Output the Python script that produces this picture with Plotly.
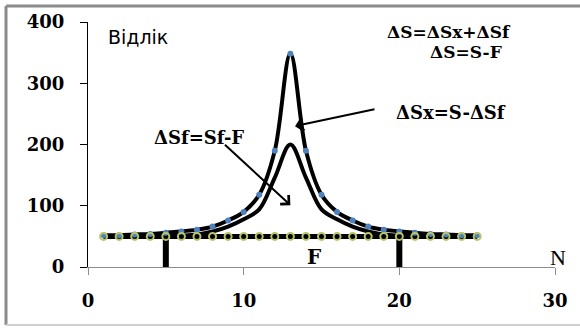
import plotly.graph_objects as go

N = list(range(1, 26))
S = [52, 52, 53, 54, 56, 58, 61, 66, 76, 90, 118, 190, 348, 190, 118, 90, 76, 66, 61, 58, 56, 54, 53, 52, 52]
Sf = [50, 50, 50, 50, 50, 51, 53, 58, 66, 78, 94, 146, 200, 146, 94, 78, 66, 58, 53, 51, 50, 50, 50, 50, 50]
F = [50] * 25
bar_N = [5, 20]
bar_top = 50

serif = "DejaVu Serif"
fig = go.Figure()

# vertical markers at N=5 and N=20
for n in bar_N:
    fig.add_trace(go.Scatter(x=[n, n], y=[0, bar_top], mode="lines",
                             line=dict(color="black", width=6), showlegend=False, hoverinfo="skip"))

fig.add_trace(go.Scatter(x=N, y=F, mode="lines", line=dict(color="black", width=5),
                         showlegend=False))
fig.add_trace(go.Scatter(x=N, y=Sf, mode="lines", line=dict(color="black", width=4, shape="spline", smoothing=1.0),
                         showlegend=False))
fig.add_trace(go.Scatter(x=N, y=S, mode="lines+markers", line=dict(color="black", width=4, shape="spline", smoothing=1.0),
                         marker=dict(color="#4F81BD", size=6), showlegend=False))
fig.add_trace(go.Scatter(x=N, y=F, mode="markers",
                         marker=dict(symbol="circle-open", size=7, color="#B8C46A",
                                     line=dict(color="#B8C46A", width=2)),
                         showlegend=False))

L, R, T, B = 88, 25, 22, 62
W, H = 580, 329
pw, ph = W - L - R, H - T - B
def px(xp): return (xp - L) / pw
def py(yp): return (H - B - yp) / ph

bold = dict(family=serif, size=17, color="black", weight="bold")
anns = [
    dict(x=23.2, y=384, text="ΔS=ΔSx+ΔSf", font=bold),
    dict(x=24.3, y=351, text="ΔS=S-F", font=bold),
    dict(x=23.3, y=253, text="ΔSx=S-ΔSf", font=dict(family=serif, size=18, color="black", weight="bold")),
    dict(x=7.1, y=212, text="ΔSf=Sf-F", font=dict(family=serif, size=18, color="black", weight="bold")),
    dict(x=14.5, y=16, text="F", font=dict(family=serif, size=20, color="black", weight="bold")),
    dict(x=3.2, y=375, text="Відлік", font=dict(family="DejaVu Sans", size=19, color="black")),
]
for a in anns:
    fig.add_annotation(xref="x", yref="y", showarrow=False, xanchor="center", yanchor="middle", **a)
fig.add_annotation(xref="paper", yref="paper", x=px(558), y=py(257), text="N", showarrow=False,
                   xanchor="center", yanchor="middle",
                   font=dict(family="Liberation Serif", size=22, color="black"))

# arrows
fig.add_annotation(x=13.3, y=230, ax=18.5, ay=258, xref="x", yref="y", axref="x", ayref="y",
                   showarrow=True, arrowhead=4, arrowsize=1.2, arrowwidth=2, arrowcolor="black", text="")
fig.add_annotation(x=13.0, y=101, ax=8.7, ay=202, xref="x", yref="y", axref="x", ayref="y",
                   showarrow=True, arrowhead=4, arrowsize=1.2, arrowwidth=2, arrowcolor="black", text="")

# outer frame (left, top, bottom)
fc = dict(color="#8C8C8C", width=3)
fig.add_shape(type="line", xref="paper", yref="paper", x0=px(6), x1=px(6), y0=py(325), y1=py(6), line=fc)
fig.add_shape(type="line", xref="paper", yref="paper", x0=px(6), x1=px(580), y0=py(6), y1=py(6), line=fc)
fig.add_shape(type="line", xref="paper", yref="paper", x0=px(6), x1=px(580), y0=py(325), y1=py(325),
              line=dict(color="#D0D0D0", width=2))

tickfont = dict(family=serif, size=18, color="black", weight="bold")
fig.update_xaxes(range=[0, 30], dtick=10, tick0=0, showgrid=False, zeroline=False,
                 showline=True, linecolor="#8C8C8C", linewidth=1,
                 ticks="outside", ticklen=7, tickcolor="#8C8C8C", tickfont=tickfont,
                 ticklabelstandoff=10)
fig.update_yaxes(range=[0, 400], dtick=100, tick0=0, showgrid=False, zeroline=False,
                 showline=True, linecolor="black", linewidth=1,
                 ticks="outside", ticklen=7, tickcolor="black", tickfont=tickfont,
                 ticklabelstandoff=12)
fig.update_layout(width=W, height=H, margin=dict(l=L, r=R, t=T, b=B),
                  plot_bgcolor="white", paper_bgcolor="white", showlegend=False)
fig.write_html("out.html")
